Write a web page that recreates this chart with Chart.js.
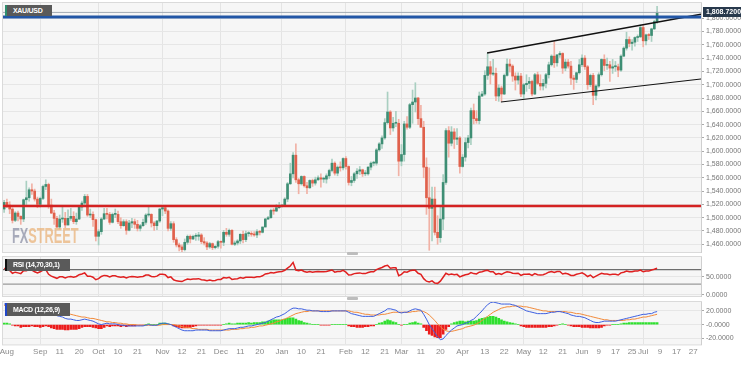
<!DOCTYPE html>
<html>
<head>
<meta charset="utf-8">
<script src="https://cdn.jsdelivr.net/npm/chart.js@4.4.1/dist/chart.umd.min.js"></script>
<style>
  html, body { margin: 0; padding: 0; background: #fff; }
  #wrap { position: relative; width: 741px; height: 366px; overflow: hidden; font-family: 'Liberation Sans', Arial, sans-serif; }
  #wrap canvas { position: absolute; left: 0; }
  .tag { position: absolute; left: 5px; background: #5a5a5a; color: #fff; font-weight: bold; font-size: 7px; letter-spacing: -0.3px; line-height: 12px; padding-left: 6px; box-sizing: border-box; white-space: nowrap; overflow: hidden; }
  .handle { position: absolute; left: 347px; width: 11px; height: 3px; background: #bdbdbd; border-radius: 1px; }
  #logo { position: absolute; left: 12px; top: 223px; font: bold 22px 'Liberation Sans Narrow', 'Liberation Sans', sans-serif; transform: scaleX(0.58); transform-origin: left top; opacity: 0.75; white-space: nowrap; }
</style>
</head>
<body>
<div id="wrap">
  <canvas id="mainChart" width="741" height="256" style="top:0"></canvas>
  <canvas id="rsiChart" width="741" height="44" style="top:254px"></canvas>
  <canvas id="macdChart" width="741" height="67" style="top:299px"></canvas>
  <div id="logo"><span style="color:#8d91a6">FX</span><span style="color:#eab37a">STREET</span></div>
  <div class="tag" style="top:5px;width:47px;height:11px;line-height:11px;border-left:2px solid #2f8f6f;">XAU/USD</div>
  <div class="tag" style="top:259px;width:65px;height:12px;border-left:2px solid #111;">RSI (14,70,30,1)</div>
  <div class="tag" style="top:303px;width:65px;height:13px;line-height:13px;border-left:2px solid #2046c8;">MACD (12,26,9)</div>
  <div class="handle" style="top:252px"></div>
  <div class="handle" style="top:297px"></div>
</div>
<script>
// daily candles, XAU/USD, 14 Aug 2019 -> 8 Jul 2020 (one slot per weekday)
const opens = [
  1513,1523,1519,1513,1496,1507,1502,1498,1527,1530,
  1542,1540,1528,1520,1529,1547,1550,1519,1507,1499,
  1486,1498,1499,1489,1499,1502,1494,1498,1516,1522,
  1532,1504,1505,1497,1472,1479,1498,1506,1505,1493,
  1505,1505,1494,1488,1494,1481,1492,1494,1490,1484,
  1488,1493,1504,1505,1492,1488,1495,1513,1515,1510,
  1484,1491,1467,1459,1456,1452,1463,1472,1468,1472,
  1472,1474,1464,1462,1456,1461,1455,1457,1464,1463,
  1478,1475,1481,1460,1462,1465,1475,1467,1476,1476,
  1475,1474,1479,1478,1486,1498,1500,1511,1510,1515,
  1517,1519,1528,1551,1566,1594,1557,1551,1562,1548,
  1545,1556,1552,1557,1560,1558,1558,1563,1571,1582,
  1567,1576,1575,1589,1577,1553,1556,1566,1570,1572,
  1566,1566,1576,1582,1582,1602,1611,1620,1643,1659,
  1635,1642,1642,1585,1595,1641,1636,1670,1674,1680,
  1649,1636,1576,1530,1514,1528,1478,1470,1498,1553,
  1631,1612,1629,1618,1620,1577,1591,1613,1620,1661,
  1649,1646,1683,1686,1714,1727,1716,1717,1683,1695,
  1686,1714,1731,1728,1713,1707,1713,1686,1700,1702,
  1705,1686,1715,1702,1698,1702,1715,1730,1743,1733,
  1745,1747,1725,1734,1728,1710,1708,1718,1730,1740,
  1727,1700,1714,1684,1698,1715,1738,1729,1730,1725,
  1727,1727,1722,1743,1755,1768,1762,1764,1771,1772,
  1786,1766,1775,1774,1784,1795
];
const highs = [
  1526,1528,1524,1515,1509,1510,1503,1528,1555,1545,
  1551,1543,1531,1531,1549,1557,1552,1528,1511,1502,
  1504,1517,1508,1512,1514,1509,1507,1518,1525,1535,
  1535,1513,1509,1498,1482,1500,1514,1514,1508,1507,
  1513,1510,1500,1497,1497,1496,1499,1498,1496,1490,
  1498,1506,1518,1506,1494,1496,1514,1516,1516,1512,
  1494,1494,1470,1462,1459,1468,1474,1474,1474,1476,
  1478,1476,1470,1464,1463,1462,1458,1466,1465,1481,
  1484,1483,1482,1465,1467,1476,1480,1480,1479,1479,
  1479,1482,1481,1486,1499,1502,1513,1514,1520,1523,
  1520,1530,1553,1582,1598,1611,1559,1563,1563,1553,
  1557,1558,1561,1563,1566,1561,1566,1573,1588,1584,
  1578,1584,1590,1592,1578,1562,1568,1574,1577,1573,
  1571,1577,1584,1585,1604,1613,1623,1649,1689,1661,
  1651,1660,1648,1610,1645,1652,1672,1692,1703,1681,
  1669,1645,1590,1575,1546,1546,1503,1517,1565,1634,
  1637,1637,1634,1634,1622,1595,1620,1624,1665,1671,
  1661,1689,1690,1721,1747,1735,1738,1725,1700,1698,
  1716,1739,1738,1730,1718,1718,1717,1702,1715,1711,
  1707,1717,1719,1715,1708,1717,1734,1745,1765,1745,
  1750,1748,1738,1738,1735,1714,1719,1738,1745,1744,
  1729,1716,1717,1700,1718,1739,1745,1740,1735,1738,
  1735,1731,1745,1757,1779,1772,1768,1772,1775,1790,
  1790,1776,1777,1785,1797,1818
];
const lows = [
  1508,1515,1506,1492,1494,1495,1490,1494,1519,1525,
  1535,1525,1515,1516,1527,1542,1514,1506,1490,1485,
  1483,1493,1485,1489,1496,1491,1490,1497,1511,1518,
  1502,1500,1487,1465,1459,1475,1497,1498,1490,1492,
  1500,1491,1484,1487,1475,1480,1485,1484,1480,1480,
  1487,1490,1502,1486,1481,1482,1493,1503,1506,1480,
  1481,1463,1456,1450,1446,1450,1460,1462,1467,1466,
  1466,1461,1459,1452,1454,1452,1453,1454,1454,1458,
  1472,1472,1459,1458,1459,1461,1462,1464,1472,1472,
  1472,1470,1474,1477,1486,1497,1499,1505,1509,1514,
  1516,1518,1524,1550,1560,1553,1536,1549,1546,1536,
  1544,1547,1549,1556,1546,1553,1552,1559,1569,1564,
  1563,1570,1572,1573,1549,1548,1553,1559,1565,1562,
  1563,1564,1572,1578,1579,1600,1604,1618,1641,1625,
  1630,1637,1563,1578,1585,1633,1634,1642,1659,1640,
  1636,1560,1505,1451,1465,1474,1460,1463,1482,1550,
  1591,1608,1604,1610,1567,1576,1585,1605,1610,1641,
  1642,1641,1682,1684,1708,1701,1714,1676,1675,1675,
  1685,1713,1719,1705,1692,1701,1682,1679,1690,1694,
  1683,1685,1700,1692,1692,1695,1710,1728,1726,1728,
  1741,1717,1721,1725,1700,1693,1703,1716,1727,1723,
  1693,1697,1670,1677,1696,1713,1721,1723,1705,1717,
  1720,1712,1720,1742,1752,1757,1752,1758,1765,1771,
  1757,1760,1768,1765,1783,1792
];
const closes = [
  1523,1519,1513,1496,1507,1502,1498,1527,1530,1542,
  1540,1528,1520,1529,1547,1550,1519,1507,1499,1486,
  1498,1499,1489,1499,1502,1494,1498,1516,1522,1532,
  1504,1505,1497,1472,1479,1498,1506,1505,1493,1505,
  1505,1494,1488,1494,1481,1492,1494,1490,1484,1488,
  1493,1504,1505,1492,1488,1495,1513,1515,1510,1484,
  1491,1467,1459,1456,1452,1463,1472,1468,1472,1472,
  1474,1464,1462,1456,1461,1455,1457,1464,1463,1478,
  1475,1481,1460,1462,1465,1475,1467,1476,1476,1475,
  1474,1479,1478,1486,1498,1500,1511,1510,1515,1517,
  1519,1528,1551,1566,1594,1557,1551,1562,1548,1545,
  1556,1552,1557,1560,1558,1558,1563,1571,1582,1567,
  1576,1575,1589,1577,1553,1556,1566,1570,1572,1566,
  1566,1576,1582,1582,1602,1611,1620,1643,1659,1635,
  1642,1642,1585,1595,1641,1636,1670,1674,1680,1649,
  1636,1576,1530,1514,1528,1478,1470,1498,1553,1631,
  1612,1629,1618,1620,1577,1591,1613,1620,1661,1649,
  1646,1683,1686,1714,1727,1716,1717,1683,1695,1686,
  1714,1731,1728,1713,1707,1713,1686,1700,1702,1705,
  1686,1715,1702,1698,1702,1715,1730,1743,1733,1745,
  1747,1725,1734,1728,1710,1708,1718,1730,1740,1727,
  1700,1714,1684,1698,1715,1738,1729,1730,1725,1727,
  1727,1722,1743,1755,1768,1762,1764,1771,1772,1786,
  1766,1775,1774,1784,1795,1809
];

// RSI (14)
const rsiValues = [
  73,72,68,60,63,61,59,67,67,70,
  69,64,61,64,69,70,57,52,49,46,
  50,50,47,50,51,49,51,56,58,61,
  52,52,49,42,45,51,54,53,50,53,
  53,50,49,50,47,50,51,50,49,50,
  51,55,55,51,50,52,57,57,56,48,
  50,42,39,38,37,41,44,43,44,44,
  45,42,41,39,41,39,40,43,43,48,
  47,49,43,44,45,48,46,49,49,49,
  48,50,50,53,58,59,62,61,63,64,
  65,68,74,80,90,69,67,69,65,63,
  65,63,64,65,64,64,65,67,69,63,
  65,65,68,63,55,56,59,60,61,59,
  59,62,64,64,70,73,76,80,82,74,
  75,75,53,57,64,63,67,68,68,60,
  57,45,38,36,39,33,32,38,49,60,
  56,58,56,57,50,53,56,57,62,59,
  58,63,64,67,68,64,64,57,59,57,
  61,64,63,60,59,60,54,57,57,58,
  54,59,56,55,56,59,63,65,62,65,
  65,58,60,58,54,54,57,59,61,57,
  51,55,48,52,56,60,58,58,56,57,
  57,55,61,63,66,64,64,66,66,69,
  64,66,66,69,71,74
];

// MACD (12,26,9)
const macdValues = [
  30,30,29,27,26,25,23,23,23,23,
  23,22,21,20,20,21,19,17,15,13,
  12,11,9,8,8,7,6,6,7,8,
  7,6,5,3,1,0,1,2,1,1,
  1,0,-1,-1,-2,-2,-2,-2,-2,-2,
  -2,-1,0,-1,-1,-1,1,2,2,1,
  0,-2,-4,-6,-8,-9,-9,-9,-9,-8,
  -8,-8,-8,-8,-9,-9,-9,-9,-9,-8,
  -7,-6,-6,-6,-5,-4,-4,-3,-2,-2,
  -1,0,1,2,3,5,7,9,11,12,
  14,16,19,22,24,24,23,23,22,21,
  21,20,20,20,19,19,19,19,20,20,
  20,20,20,20,18,16,15,14,13,12,
  12,12,12,12,14,16,18,20,23,23,
  22,21,18,17,18,18,20,22,23,22,
  21,15,8,0,-6,-12,-18,-22,-21,-16,
  -12,-8,-5,-2,-1,0,2,3,6,8,
  12,16,20,25,29,32,33,32,31,30,
  30,30,30,29,28,26,24,22,20,19,
  18,17,16,16,16,16,17,18,18,19,
  19,18,17,16,14,13,12,12,11,10,
  8,6,4,3,3,4,5,5,5,5,
  5,6,7,8,9,10,11,12,13,14,
  15,15,16,16,18,19
];
const signalValues = [
  28,28,28,28,28,27,27,26,26,26,
  25,25,24,24,23,23,22,22,21,20,
  19,18,17,16,15,14,13,12,11,11,
  10,9,9,8,7,6,5,4,4,3,
  3,2,2,1,1,0,0,0,-1,-1,
  -1,-1,-1,-1,-1,-1,-1,0,0,0,
  0,0,-1,-2,-3,-4,-4,-5,-6,-6,
  -7,-7,-7,-7,-8,-8,-8,-8,-8,-8,
  -8,-8,-7,-7,-7,-6,-6,-5,-5,-4,
  -4,-3,-2,-2,-1,0,1,2,4,5,
  7,8,10,12,14,16,17,18,19,19,
  20,20,20,20,20,20,20,20,20,20,
  20,20,20,20,20,19,18,18,17,16,
  15,15,14,14,14,14,15,15,16,17,
  18,18,18,18,18,18,18,19,19,20,
  20,19,17,14,10,6,1,-3,-7,-9,
  -10,-10,-9,-8,-7,-6,-4,-3,-2,-1,
  1,3,6,9,12,15,18,20,22,24,
  25,26,26,27,27,27,27,26,26,25,
  24,23,22,21,20,20,19,19,19,19,
  19,19,19,18,18,17,16,16,15,14,
  13,12,11,10,9,8,7,7,6,6,
  6,6,6,6,7,7,8,8,9,10,
  11,11,12,13,14,15
];
const histValues = [
  2,2,1,-1,-2,-2,-4,-3,-3,-3,
  -2,-3,-3,-4,-3,-2,-3,-5,-6,-7,
  -7,-7,-8,-8,-7,-7,-7,-6,-4,-3,
  -3,-3,-4,-5,-6,-6,-4,-2,-3,-2,
  -2,-2,-3,-2,-3,-2,-2,-2,-1,-1,
  -1,0,1,0,0,0,2,2,2,1,
  0,-2,-3,-4,-5,-5,-5,-4,-3,-2,
  -1,-1,-1,-1,-1,-1,-1,-1,-1,0,
  1,2,1,1,2,2,2,2,3,2,
  3,3,3,4,4,5,6,7,7,7,
  7,8,9,10,10,8,6,5,3,2,
  1,0,0,0,-1,-1,-1,-1,0,0,
  0,0,0,0,-2,-3,-3,-4,-4,-4,
  -3,-3,-2,-2,0,2,3,5,7,6,
  4,3,0,-1,0,0,2,3,4,2,
  1,-4,-9,-14,-16,-18,-19,-19,-14,-7,
  -3,1,3,4,5,5,4,5,5,5,
  6,8,9,10,11,12,12,11,9,7,
  5,4,3,2,1,0,-2,-3,-4,-4,
  -4,-4,-4,-4,-4,-4,-3,-3,-2,-1,
  0,1,0,-1,-2,-3,-3,-3,-4,-4,
  -4,-5,-5,-5,-5,-4,-2,-1,-1,0,
  0,0,1,2,2,3,3,3,3,3,
  3,3,3,3,3,3
];

// bottom axis labels and the weekday slot they sit on
const tickText = ['Aug','Sep','11','20','Oct','10','21','Nov','12','21','Dec','11','20','Jan','10','21','Feb','12','21','Mar','11','20','Apr','13','22','May','12','21','Jun','9','17','25','Jul','9','17','27'];
const tickIdx  = [1,13,20,27,34,41,48,57,64,71,78,85,92,100,107,114,123,130,137,143,150,157,165,173,180,187,194,201,208,214,220,226,230,236,242,248];

// levels drawn on the price panel
const lastPrice = 1808.72;
const resistance = 1802;
const support = 1517.5;
const channelTop = [[173.8, 1747.7], [250.8, 1806]];
const channelBottom = [[178.8, 1674], [250.8, 1708.6]];

const mainTicks = [1460,1480,1500,1520,1540,1560,1580,1600,1620,1640,1660,1680,1700,1720,1740,1760,1780,1800];
const rsiTicks = [0, 50];
const macdTicks = [-20, 0, 20];

const xMin = -0.4, xMax = 250.8;

Chart.defaults.font.family = "'Liberation Sans', Arial, sans-serif";
Chart.defaults.animation = false;

const fmt = v => v.toLocaleString('en-US', { minimumFractionDigits: 4, maximumFractionDigits: 4 });
const isMonth = i => /^[A-Z]/.test(tickText[i]) && tickText[i] !== 'Aug';
const idx = closes.map((_, i) => i);
const up = i => closes[i] >= opens[i];
const flat = (y) => [{ x: xMin, y }, { x: xMax, y }];
const seg = s => s.map(p => ({ x: p[0], y: p[1] }));

const panelBg = {
  id: 'panelBg',
  beforeDraw(chart) {
    const { ctx, chartArea: a } = chart;
    ctx.save();
    ctx.fillStyle = '#f6f6f6';
    ctx.fillRect(a.left, a.top, a.right - a.left, a.bottom - a.top);
    ctx.strokeStyle = '#dadada';
    ctx.lineWidth = 1;
    ctx.strokeRect(a.left - 0.5, a.top - 0.5, a.right - a.left + 1, a.bottom - a.top + 1);
    ctx.restore();
  }
};

const priceTag = {
  id: 'priceTag',
  afterDraw(chart) {
    const { ctx, chartArea: a } = chart;
    const y = Math.round(chart.scales.y.getPixelForValue(lastPrice));
    ctx.save();
    ctx.fillStyle = '#28394c';
    ctx.fillRect(a.right + 2, y - 5, chart.width - a.right - 2, 10);
    ctx.fillStyle = '#fff';
    ctx.font = "bold 7px 'Liberation Sans', Arial, sans-serif";
    ctx.textBaseline = 'middle';
    ctx.fillText(fmt(lastPrice), a.right + 5, y + 0.5);
    ctx.restore();
  }
};

function xScale(showLabels) {
  return {
    type: 'linear', min: xMin, max: xMax, offset: false,
    afterBuildTicks: s => { s.ticks = tickIdx.map(v => ({ value: v })); },
    afterFit: s => { s.paddingLeft = 0; s.paddingRight = 0; },
    ticks: {
      display: showLabels, autoSkip: false, maxRotation: 0, padding: 3,
      color: '#8a8a8a', font: { size: 8 },
      callback: (v, i) => tickText[i]
    },
    grid: { offset: false, drawTicks: false, color: c => isMonth(c.index) ? '#e4e4e4' : 'rgba(0,0,0,0)' },
    border: { display: false }
  };
}

function yScale(min, max, list, label) {
  return {
    position: 'right', min, max,
    afterBuildTicks: s => { s.ticks = list.map(v => ({ value: v })); },
    afterFit: s => { s.width = 40; s.paddingTop = 0; s.paddingBottom = 0; },
    ticks: { color: '#777', font: { size: 7 }, padding: 2, callback: label },
    grid: { color: '#e6e6e6', tickLength: 3, tickColor: '#aaa' },
    border: { color: '#cfcfcf' }
  };
}

const baseOpts = (padding, showX, y) => ({
  responsive: false,
  maintainAspectRatio: false,
  layout: { padding },
  plugins: { legend: { display: false }, tooltip: { enabled: false } },
  scales: { x: xScale(showX), y }
});

const lineDs = (data, color, width) => ({
  type: 'line', data, borderColor: color, borderWidth: width,
  pointRadius: 0, fill: false, tension: 0
});

// price panel
new Chart(document.getElementById('mainChart'), {
  data: {
    datasets: [
      lineDs(flat(lastPrice), '#a3abb3', 1),
      lineDs(flat(resistance), '#2256a6', 3),
      lineDs(flat(support), '#d42222', 2.5),
      lineDs(seg(channelTop), '#111', 1.5),
      lineDs(seg(channelBottom), '#111', 1),
      {
        type: 'bar', grouped: false, barThickness: 1,
        data: idx.map(i => ({ x: i, y: [lows[i], highs[i]] })),
        backgroundColor: c => up(c.dataIndex) ? '#a9cfc1' : '#f1b1a5'
      },
      {
        type: 'bar', grouped: false, barThickness: 2, minBarLength: 1,
        data: idx.map(i => ({ x: i, y: [Math.min(opens[i], closes[i]), Math.max(opens[i], closes[i])] })),
        backgroundColor: c => up(c.dataIndex) ? '#3e8e74' : '#e0614c'
      }
    ].map((d, k) => Object.assign(d, { order: k < 5 ? 0 : 7 - k + 1 }))
  },
  options: baseOpts({ left: 3, top: 3, right: 0, bottom: 4 }, false,
    yScale(1448.4, 1822.9, mainTicks, v => fmt(v))),
  plugins: [panelBg, priceTag]
});

// RSI panel
new Chart(document.getElementById('rsiChart'), {
  data: {
    datasets: [
      lineDs(idx.map(i => ({ x: i, y: rsiValues[i] })), '#e02020', 1.5),
      lineDs(flat(70), '#6e6e6e', 1.2),
      lineDs(flat(30), '#9a9a9a', 1.2)
    ]
  },
  options: baseOpts({ left: 3, top: 3, right: 0, bottom: 2 }, false,
    yScale(-3, 105, rsiTicks, v => fmt(v))),
  plugins: [panelBg]
});

// MACD panel
new Chart(document.getElementById('macdChart'), {
  data: {
    datasets: [
      lineDs(idx.map(i => ({ x: i, y: macdValues[i] })), '#3d5fe0', 1),
      lineDs(idx.map(i => ({ x: i, y: signalValues[i] })), '#f28a3a', 1),
      {
        type: 'bar', grouped: false, barThickness: 2,
        data: idx.map(i => ({ x: i, y: histValues[i] })),
        backgroundColor: c => histValues[c.dataIndex] >= 0 ? '#2ee02e' : '#ec1c1c',
        order: 5
      }
    ]
  },
  options: baseOpts({ left: 3, top: 3, right: 0, bottom: 6 }, true,
    yScale(-29, 33, macdTicks, v => v === 0 ? '-0.0000' : fmt(v))),
  plugins: [panelBg]
});
</script>
</body>
</html>
